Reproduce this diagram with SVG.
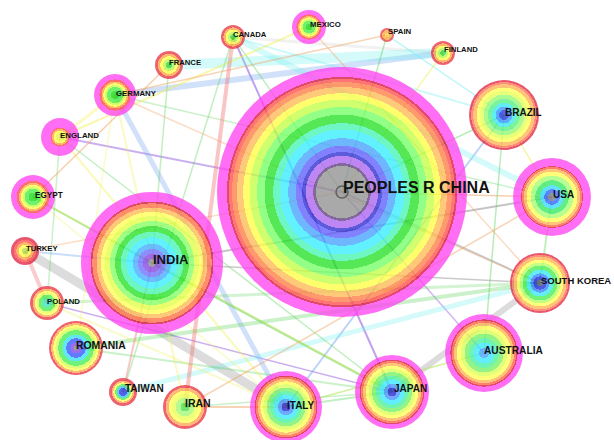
<svg xmlns="http://www.w3.org/2000/svg" width="614" height="440" viewBox="0 0 614 440">
<style>
.lb{font-family:"Liberation Sans",Arial,sans-serif;font-weight:bold;fill:#111}
.n{opacity:0.76}
.e{fill:none;stroke-linecap:butt}
.gy{stroke:#8a8a8a}.pu{stroke:#9a60e0}.bl{stroke:#7aaaf0}.cy{stroke:#70eef0}.gr{stroke:#50d050}.ye{stroke:#f0f050}.or{stroke:#f0a060}.rd{stroke:#f07070}
</style>
<defs>
<radialGradient id="gChina">
<stop offset="0" stop-color="#8e8e8e"/><stop offset=".21" stop-color="#8e8e8e"/>
<stop offset=".21" stop-color="#5a3a7a"/><stop offset=".23" stop-color="#5a3a7a"/>
<stop offset=".23" stop-color="#a860f0"/><stop offset=".29" stop-color="#a860f0"/>
<stop offset=".29" stop-color="#2828d0"/><stop offset=".32" stop-color="#2828d0"/>
<stop offset=".32" stop-color="#5a5aff"/><stop offset=".37" stop-color="#5a5aff"/>
<stop offset=".37" stop-color="#40a0ff"/><stop offset=".43" stop-color="#40a0ff"/>
<stop offset=".43" stop-color="#30ecff"/><stop offset=".50" stop-color="#30ecff"/>
<stop offset=".50" stop-color="#40f4b0"/><stop offset=".55" stop-color="#40f4b0"/>
<stop offset=".55" stop-color="#20e020"/><stop offset=".62" stop-color="#20e020"/>
<stop offset=".62" stop-color="#70ff60"/><stop offset=".68" stop-color="#70ff60"/>
<stop offset=".68" stop-color="#c0ff40"/><stop offset=".74" stop-color="#c0ff40"/>
<stop offset=".74" stop-color="#ffff40"/><stop offset=".79" stop-color="#ffff40"/>
<stop offset=".79" stop-color="#ffb850"/><stop offset=".84" stop-color="#ffb850"/>
<stop offset=".84" stop-color="#ff7a40"/><stop offset=".88" stop-color="#ff7a40"/>
<stop offset=".88" stop-color="#ff4848"/><stop offset=".905" stop-color="#ff4848"/>
<stop offset=".905" stop-color="#d8103a"/><stop offset=".92" stop-color="#d8103a"/>
<stop offset=".92" stop-color="#ff40f0"/><stop offset="1" stop-color="#ff40f0"/>
</radialGradient>
<radialGradient id="gIndia">
<stop offset="0" stop-color="#8e8e8e"/><stop offset=".05" stop-color="#8e8e8e"/>
<stop offset=".05" stop-color="#8040e0"/><stop offset=".13" stop-color="#8040e0"/>
<stop offset=".13" stop-color="#6a6aff"/><stop offset=".20" stop-color="#6a6aff"/>
<stop offset=".20" stop-color="#40a8ff"/><stop offset=".27" stop-color="#40a8ff"/>
<stop offset=".27" stop-color="#30ecff"/><stop offset=".36" stop-color="#30ecff"/>
<stop offset=".36" stop-color="#40f4b0"/><stop offset=".44" stop-color="#40f4b0"/>
<stop offset=".44" stop-color="#20e020"/><stop offset=".52" stop-color="#20e020"/>
<stop offset=".52" stop-color="#80ff60"/><stop offset=".59" stop-color="#80ff60"/>
<stop offset=".59" stop-color="#e0ff40"/><stop offset=".66" stop-color="#e0ff40"/>
<stop offset=".66" stop-color="#ffff50"/><stop offset=".72" stop-color="#ffff50"/>
<stop offset=".72" stop-color="#ffb850"/><stop offset=".78" stop-color="#ffb850"/>
<stop offset=".78" stop-color="#ff6a40"/><stop offset=".84" stop-color="#ff6a40"/>
<stop offset=".84" stop-color="#d8103a"/><stop offset=".865" stop-color="#d8103a"/>
<stop offset=".865" stop-color="#ff40f0"/><stop offset="1" stop-color="#ff40f0"/>
</radialGradient>
<radialGradient id="gUSA">
<stop offset="0" stop-color="#707888"/><stop offset=".1" stop-color="#707888"/>
<stop offset=".1" stop-color="#3060ff"/><stop offset=".2" stop-color="#3060ff"/>
<stop offset=".2" stop-color="#30d8ff"/><stop offset=".3" stop-color="#30d8ff"/>
<stop offset=".3" stop-color="#30e860"/><stop offset=".43" stop-color="#30e860"/>
<stop offset=".43" stop-color="#a0ff70"/><stop offset=".55" stop-color="#a0ff70"/>
<stop offset=".55" stop-color="#ffff50"/><stop offset=".65" stop-color="#ffff50"/>
<stop offset=".65" stop-color="#ffb050"/><stop offset=".72" stop-color="#ffb050"/>
<stop offset=".72" stop-color="#ff5a40"/><stop offset=".77" stop-color="#ff5a40"/>
<stop offset=".77" stop-color="#d8103a"/><stop offset=".79" stop-color="#d8103a"/>
<stop offset=".79" stop-color="#ff40f0"/><stop offset="1" stop-color="#ff40f0"/>
</radialGradient>
<radialGradient id="gJapan">
<stop offset="0" stop-color="#2020d0"/><stop offset=".12" stop-color="#2020d0"/>
<stop offset=".12" stop-color="#4090ff"/><stop offset=".22" stop-color="#4090ff"/>
<stop offset=".22" stop-color="#30e8ff"/><stop offset=".34" stop-color="#30e8ff"/>
<stop offset=".34" stop-color="#40f0a0"/><stop offset=".44" stop-color="#40f0a0"/>
<stop offset=".44" stop-color="#70f060"/><stop offset=".54" stop-color="#70f060"/>
<stop offset=".54" stop-color="#d8ff50"/><stop offset=".63" stop-color="#d8ff50"/>
<stop offset=".63" stop-color="#ffff50"/><stop offset=".71" stop-color="#ffff50"/>
<stop offset=".71" stop-color="#ffb050"/><stop offset=".78" stop-color="#ffb050"/>
<stop offset=".78" stop-color="#ff5a40"/><stop offset=".84" stop-color="#ff5a40"/>
<stop offset=".84" stop-color="#d8103a"/><stop offset=".87" stop-color="#d8103a"/>
<stop offset=".87" stop-color="#ff40f0"/><stop offset="1" stop-color="#ff40f0"/>
</radialGradient>
<radialGradient id="gAus">
<stop offset="0" stop-color="#40a0ff"/><stop offset=".13" stop-color="#40a0ff"/>
<stop offset=".13" stop-color="#30e8ff"/><stop offset=".26" stop-color="#30e8ff"/>
<stop offset=".26" stop-color="#40f0a0"/><stop offset=".38" stop-color="#40f0a0"/>
<stop offset=".38" stop-color="#70f060"/><stop offset=".50" stop-color="#70f060"/>
<stop offset=".50" stop-color="#d8ff50"/><stop offset=".60" stop-color="#d8ff50"/>
<stop offset=".60" stop-color="#ffff50"/><stop offset=".70" stop-color="#ffff50"/>
<stop offset=".70" stop-color="#ffb050"/><stop offset=".77" stop-color="#ffb050"/>
<stop offset=".77" stop-color="#ff5a40"/><stop offset=".83" stop-color="#ff5a40"/>
<stop offset=".83" stop-color="#d8103a"/><stop offset=".86" stop-color="#d8103a"/>
<stop offset=".86" stop-color="#ff40f0"/><stop offset="1" stop-color="#ff40f0"/>
</radialGradient>
<radialGradient id="gGreenM">
<stop offset="0" stop-color="#10d810"/><stop offset=".2" stop-color="#10d810"/>
<stop offset=".2" stop-color="#40ee40"/><stop offset=".38" stop-color="#40ee40"/>
<stop offset=".38" stop-color="#c8ff40"/><stop offset=".48" stop-color="#c8ff40"/>
<stop offset=".48" stop-color="#ffff40"/><stop offset=".56" stop-color="#ffff40"/>
<stop offset=".56" stop-color="#ffa040"/><stop offset=".64" stop-color="#ffa040"/>
<stop offset=".64" stop-color="#ff4040"/><stop offset=".74" stop-color="#ff4040"/>
<stop offset=".74" stop-color="#ff40f0"/><stop offset="1" stop-color="#ff40f0"/>
</radialGradient>
<radialGradient id="gEngland">
<stop offset="0" stop-color="#e8f040"/><stop offset=".22" stop-color="#e8f040"/>
<stop offset=".22" stop-color="#ffff40"/><stop offset=".34" stop-color="#ffff40"/>
<stop offset=".34" stop-color="#ffa040"/><stop offset=".42" stop-color="#ffa040"/>
<stop offset=".42" stop-color="#ff4040"/><stop offset=".5" stop-color="#ff4040"/>
<stop offset=".5" stop-color="#ff40f0"/><stop offset="1" stop-color="#ff40f0"/>
</radialGradient>
<radialGradient id="gBrazil">
<stop offset="0" stop-color="#2030e0"/><stop offset=".14" stop-color="#2030e0"/>
<stop offset=".14" stop-color="#3090ff"/><stop offset=".24" stop-color="#3090ff"/>
<stop offset=".24" stop-color="#30e8f0"/><stop offset=".34" stop-color="#30e8f0"/>
<stop offset=".34" stop-color="#50f080"/><stop offset=".46" stop-color="#50f080"/>
<stop offset=".46" stop-color="#90f870"/><stop offset=".58" stop-color="#90f870"/>
<stop offset=".58" stop-color="#e0ff50"/><stop offset=".68" stop-color="#e0ff50"/>
<stop offset=".68" stop-color="#ffff50"/><stop offset=".78" stop-color="#ffff50"/>
<stop offset=".78" stop-color="#ffb050"/><stop offset=".88" stop-color="#ffb050"/>
<stop offset=".88" stop-color="#ff6a50"/><stop offset=".94" stop-color="#ff6a50"/>
<stop offset=".94" stop-color="#e02040"/><stop offset="1" stop-color="#e02040"/>
</radialGradient>
<radialGradient id="gKorea">
<stop offset="0" stop-color="#505870"/><stop offset=".1" stop-color="#505870"/>
<stop offset=".1" stop-color="#1828d8"/><stop offset=".22" stop-color="#1828d8"/>
<stop offset=".22" stop-color="#3080ff"/><stop offset=".32" stop-color="#3080ff"/>
<stop offset=".32" stop-color="#30e8f0"/><stop offset=".45" stop-color="#30e8f0"/>
<stop offset=".45" stop-color="#40ee50"/><stop offset=".58" stop-color="#40ee50"/>
<stop offset=".58" stop-color="#b0ff60"/><stop offset=".68" stop-color="#b0ff60"/>
<stop offset=".68" stop-color="#ffff50"/><stop offset=".78" stop-color="#ffff50"/>
<stop offset=".78" stop-color="#ffb050"/><stop offset=".88" stop-color="#ffb050"/>
<stop offset=".88" stop-color="#ff6a50"/><stop offset=".94" stop-color="#ff6a50"/>
<stop offset=".94" stop-color="#e02040"/><stop offset="1" stop-color="#e02040"/>
</radialGradient>
<radialGradient id="gRomania">
<stop offset="0" stop-color="#808080"/><stop offset=".08" stop-color="#808080"/>
<stop offset=".08" stop-color="#8040e0"/><stop offset=".2" stop-color="#8040e0"/>
<stop offset=".2" stop-color="#3050ff"/><stop offset=".36" stop-color="#3050ff"/>
<stop offset=".36" stop-color="#30e0f0"/><stop offset=".5" stop-color="#30e0f0"/>
<stop offset=".5" stop-color="#40ee50"/><stop offset=".66" stop-color="#40ee50"/>
<stop offset=".66" stop-color="#d0ff50"/><stop offset=".76" stop-color="#d0ff50"/>
<stop offset=".76" stop-color="#ffff50"/><stop offset=".84" stop-color="#ffff50"/>
<stop offset=".84" stop-color="#ffa050"/><stop offset=".92" stop-color="#ffa050"/>
<stop offset=".92" stop-color="#e83040"/><stop offset="1" stop-color="#e83040"/>
</radialGradient>
<radialGradient id="gIran">
<stop offset="0" stop-color="#40e040"/><stop offset=".2" stop-color="#40e040"/>
<stop offset=".2" stop-color="#a0f870"/><stop offset=".42" stop-color="#a0f870"/>
<stop offset=".42" stop-color="#e8ff50"/><stop offset=".6" stop-color="#e8ff50"/>
<stop offset=".6" stop-color="#ffff50"/><stop offset=".74" stop-color="#ffff50"/>
<stop offset=".74" stop-color="#ffa050"/><stop offset=".88" stop-color="#ffa050"/>
<stop offset=".88" stop-color="#e83040"/><stop offset="1" stop-color="#e83040"/>
</radialGradient>
<radialGradient id="gTaiwan">
<stop offset="0" stop-color="#2030e0"/><stop offset=".3" stop-color="#2030e0"/>
<stop offset=".3" stop-color="#30c0f0"/><stop offset=".42" stop-color="#30c0f0"/>
<stop offset=".42" stop-color="#40ee50"/><stop offset=".56" stop-color="#40ee50"/>
<stop offset=".56" stop-color="#ffff50"/><stop offset=".68" stop-color="#ffff50"/>
<stop offset=".68" stop-color="#ffa050"/><stop offset=".8" stop-color="#ffa050"/>
<stop offset=".8" stop-color="#e83040"/><stop offset="1" stop-color="#e83040"/>
</radialGradient>
<radialGradient id="gPoland">
<stop offset="0" stop-color="#30e0d0"/><stop offset=".25" stop-color="#30e0d0"/>
<stop offset=".25" stop-color="#40ee50"/><stop offset=".5" stop-color="#40ee50"/>
<stop offset=".5" stop-color="#e0ff50"/><stop offset=".62" stop-color="#e0ff50"/>
<stop offset=".62" stop-color="#ffff50"/><stop offset=".72" stop-color="#ffff50"/>
<stop offset=".72" stop-color="#ffa050"/><stop offset=".85" stop-color="#ffa050"/>
<stop offset=".85" stop-color="#e83040"/><stop offset="1" stop-color="#e83040"/>
</radialGradient>
<radialGradient id="gTurkey">
<stop offset="0" stop-color="#b0e040"/><stop offset=".25" stop-color="#b0e040"/>
<stop offset=".25" stop-color="#ffff40"/><stop offset=".45" stop-color="#ffff40"/>
<stop offset=".45" stop-color="#ffa040"/><stop offset=".62" stop-color="#ffa040"/>
<stop offset=".62" stop-color="#ff4848"/><stop offset=".8" stop-color="#ff4848"/>
<stop offset=".8" stop-color="#e02040"/><stop offset="1" stop-color="#e02040"/>
</radialGradient>
<radialGradient id="gSmall">
<stop offset="0" stop-color="#30d830"/><stop offset=".22" stop-color="#30d830"/>
<stop offset=".22" stop-color="#b0f850"/><stop offset=".42" stop-color="#b0f850"/>
<stop offset=".42" stop-color="#ffff40"/><stop offset=".62" stop-color="#ffff40"/>
<stop offset=".62" stop-color="#ffa040"/><stop offset=".8" stop-color="#ffa040"/>
<stop offset=".8" stop-color="#e83040"/><stop offset="1" stop-color="#e83040"/>
</radialGradient>
<radialGradient id="gSpain">
<stop offset="0" stop-color="#ffd040"/><stop offset=".35" stop-color="#ffd040"/>
<stop offset=".35" stop-color="#ffa040"/><stop offset=".7" stop-color="#ffa040"/>
<stop offset=".7" stop-color="#e84040"/><stop offset="1" stop-color="#e84040"/>
</radialGradient>
</defs>
<rect width="614" height="440" fill="#fff"/>
<g id="connectors">
<line class="e gy" x1="25" y1="251" x2="286" y2="407" stroke-width="9" opacity="0.3"/>
<line class="e gy" x1="392" y1="392" x2="540" y2="283" stroke-width="6" opacity="0.3"/>
<line class="e gy" x1="552" y1="197" x2="152" y2="263" stroke-width="2" opacity="0.5"/>
<line class="e gy" x1="540" y1="283" x2="152" y2="263" stroke-width="1.5" opacity="0.45"/>
<line class="e gy" x1="342" y1="192" x2="540" y2="283" stroke-width="2" opacity="0.45"/>
<line class="e gy" x1="233" y1="37" x2="443" y2="53" stroke-width="3" opacity="0.12"/>
<line class="e pu" x1="233" y1="37" x2="392" y2="392" stroke-width="2" opacity="0.6"/>
<line class="e pu" x1="60" y1="137" x2="342" y2="192" stroke-width="2" opacity="0.5"/>
<line class="e pu" x1="47" y1="303" x2="392" y2="392" stroke-width="1.5" opacity="0.5"/>
<line class="e pu" x1="342" y1="192" x2="484" y2="353" stroke-width="1.5" opacity="0.45"/>
<line class="e bl" x1="115" y1="95" x2="443" y2="53" stroke-width="6" opacity="0.35"/>
<line class="e bl" x1="115" y1="95" x2="286" y2="407" stroke-width="5" opacity="0.35"/>
<line class="e bl" x1="286" y1="407" x2="504" y2="115" stroke-width="2" opacity="0.5"/>
<line class="e bl" x1="25" y1="251" x2="152" y2="263" stroke-width="2" opacity="0.4"/>
<line class="e cy" x1="169" y1="65" x2="443" y2="53" stroke-width="10" opacity="0.3"/>
<line class="e cy" x1="233" y1="37" x2="552" y2="197" stroke-width="6" opacity="0.3"/>
<line class="e cy" x1="540" y1="283" x2="123" y2="392" stroke-width="5" opacity="0.3"/>
<line class="e cy" x1="387" y1="35" x2="504" y2="115" stroke-width="1.5" opacity="0.5"/>
<line class="e cy" x1="233" y1="37" x2="504" y2="115" stroke-width="2" opacity="0.35"/>
<line class="e gr" x1="152" y1="263" x2="392" y2="392" stroke-width="2.5" opacity="0.5"/>
<line class="e gr" x1="33" y1="197" x2="152" y2="263" stroke-width="2" opacity="0.5"/>
<line class="e gr" x1="233" y1="37" x2="123" y2="392" stroke-width="1.5" opacity="0.35"/>
<line class="e gr" x1="60" y1="137" x2="392" y2="392" stroke-width="1.5" opacity="0.35"/>
<line class="e gr" x1="504" y1="115" x2="484" y2="353" stroke-width="1.5" opacity="0.4"/>
<line class="e gr" x1="552" y1="197" x2="540" y2="283" stroke-width="2" opacity="0.35"/>
<line class="e gr" x1="387" y1="35" x2="342" y2="192" stroke-width="1.5" opacity="0.4"/>
<line class="e gr" x1="115" y1="95" x2="552" y2="197" stroke-width="1.5" opacity="0.3"/>
<line class="e gr" x1="169" y1="65" x2="152" y2="263" stroke-width="1.5" opacity="0.35"/>
<line class="e gr" x1="540" y1="283" x2="76" y2="348" stroke-width="4" opacity="0.3"/>
<line class="e gr" x1="47" y1="303" x2="540" y2="283" stroke-width="3" opacity="0.25"/>
<line class="e gr" x1="76" y1="348" x2="392" y2="392" stroke-width="2" opacity="0.3"/>
<line class="e gr" x1="286" y1="407" x2="392" y2="392" stroke-width="2" opacity="0.35"/>
<line class="e gr" x1="504" y1="115" x2="342" y2="192" stroke-width="1.5" opacity="0.4"/>
<line class="e gr" x1="233" y1="37" x2="342" y2="192" stroke-width="1.5" opacity="0.35"/>
<line class="e gr" x1="185" y1="407" x2="392" y2="392" stroke-width="1.5" opacity="0.3"/>
<line class="e gr" x1="60" y1="137" x2="47" y2="303" stroke-width="1.5" opacity="0.3"/>
<line class="e gr" x1="286" y1="407" x2="484" y2="353" stroke-width="1.5" opacity="0.3"/>
<line class="e ye" x1="309" y1="27" x2="60" y2="137" stroke-width="2" opacity="0.45"/>
<line class="e ye" x1="60" y1="137" x2="286" y2="407" stroke-width="2" opacity="0.4"/>
<line class="e ye" x1="115" y1="95" x2="185" y2="407" stroke-width="2" opacity="0.35"/>
<line class="e ye" x1="443" y1="53" x2="342" y2="192" stroke-width="1.5" opacity="0.45"/>
<line class="e ye" x1="504" y1="115" x2="552" y2="197" stroke-width="1.5" opacity="0.5"/>
<line class="e ye" x1="33" y1="197" x2="392" y2="392" stroke-width="2" opacity="0.3"/>
<line class="e ye" x1="47" y1="303" x2="286" y2="407" stroke-width="2" opacity="0.3"/>
<line class="e ye" x1="484" y1="353" x2="286" y2="407" stroke-width="1.5" opacity="0.35"/>
<line class="e ye" x1="115" y1="95" x2="60" y2="137" stroke-width="3" opacity="0.35"/>
<line class="e ye" x1="33" y1="197" x2="286" y2="407" stroke-width="1.5" opacity="0.3"/>
<line class="e ye" x1="115" y1="95" x2="76" y2="348" stroke-width="1.5" opacity="0.3"/>
<line class="e or" x1="169" y1="65" x2="33" y2="197" stroke-width="1.5" opacity="0.5"/>
<line class="e or" x1="387" y1="35" x2="115" y2="95" stroke-width="1.5" opacity="0.45"/>
<line class="e or" x1="309" y1="27" x2="540" y2="283" stroke-width="1.5" opacity="0.4"/>
<line class="e or" x1="185" y1="407" x2="552" y2="197" stroke-width="1.5" opacity="0.45"/>
<line class="e or" x1="185" y1="407" x2="286" y2="407" stroke-width="2" opacity="0.45"/>
<line class="e or" x1="115" y1="95" x2="540" y2="283" stroke-width="1.5" opacity="0.35"/>
<line class="e or" x1="552" y1="197" x2="342" y2="192" stroke-width="1.5" opacity="0.5"/>
<line class="e or" x1="25" y1="251" x2="342" y2="192" stroke-width="1.5" opacity="0.35"/>
<line class="e rd" x1="233" y1="37" x2="185" y2="407" stroke-width="4" opacity="0.4"/>
<line class="e rd" x1="25" y1="251" x2="47" y2="303" stroke-width="4" opacity="0.35"/>
<line class="e rd" x1="152" y1="263" x2="123" y2="392" stroke-width="2" opacity="0.4"/>
</g>
<g id="n-china"><circle class="n" cx="342" cy="192" r="125" fill="url(#gChina)"/><circle cx="342" cy="192" r="6" fill="none" stroke="#606060" stroke-width="1.5"/><text class="lb" x="343" y="193" font-size="16">PEOPLES R CHINA</text></g>
<g id="n-india"><circle class="n" cx="152" cy="263" r="71" fill="url(#gIndia)"/><text class="lb" x="153" y="264" font-size="13">INDIA</text></g>
<g id="n-brazil"><circle class="n" cx="504" cy="115" r="35" fill="url(#gBrazil)"/><text class="lb" x="505" y="116" font-size="10">BRAZIL</text></g>
<g id="n-usa"><circle class="n" cx="552" cy="197" r="39" fill="url(#gUSA)"/><text class="lb" x="553" y="198" font-size="10">USA</text></g>
<g id="n-southkorea"><circle class="n" cx="540" cy="283" r="30" fill="url(#gKorea)"/><text class="lb" x="541" y="284" font-size="9.5">SOUTH KOREA</text></g>
<g id="n-australia"><circle class="n" cx="484" cy="353" r="39" fill="url(#gAus)"/><text class="lb" x="484" y="354" font-size="10.2">AUSTRALIA</text></g>
<g id="n-japan"><circle class="n" cx="392" cy="392" r="37" fill="url(#gJapan)"/><text class="lb" x="394" y="392" font-size="10">JAPAN</text></g>
<g id="n-italy"><circle class="n" cx="286" cy="407" r="36" fill="url(#gJapan)"/><text class="lb" x="287" y="409" font-size="10">ITALY</text></g>
<g id="n-iran"><circle class="n" cx="185" cy="407" r="22" fill="url(#gIran)"/><text class="lb" x="185" y="407" font-size="10.5">IRAN</text></g>
<g id="n-taiwan"><circle class="n" cx="123" cy="392" r="14" fill="url(#gTaiwan)"/><text class="lb" x="125" y="392" font-size="10">TAIWAN</text></g>
<g id="n-romania"><circle class="n" cx="76" cy="348" r="27" fill="url(#gRomania)"/><text class="lb" x="76" y="349" font-size="10.4">ROMANIA</text></g>
<g id="n-poland"><circle class="n" cx="47" cy="303" r="17" fill="url(#gPoland)"/><text class="lb" x="47" y="304" font-size="7.8">POLAND</text></g>
<g id="n-turkey"><circle class="n" cx="25" cy="251" r="14" fill="url(#gTurkey)"/><text class="lb" x="26" y="251" font-size="7.7">TURKEY</text></g>
<g id="n-egypt"><circle class="n" cx="33" cy="197" r="22" fill="url(#gGreenM)"/><text class="lb" x="35" y="198" font-size="8.2">EGYPT</text></g>
<g id="n-england"><circle class="n" cx="60" cy="137" r="19" fill="url(#gEngland)"/><text class="lb" x="60" y="138" font-size="7.9">ENGLAND</text></g>
<g id="n-germany"><circle class="n" cx="115" cy="95" r="21" fill="url(#gGreenM)"/><text class="lb" x="116" y="96" font-size="7.8">GERMANY</text></g>
<g id="n-france"><circle class="n" cx="169" cy="65" r="14" fill="url(#gSmall)"/><text class="lb" x="169" y="65" font-size="7.7">FRANCE</text></g>
<g id="n-canada"><circle class="n" cx="233" cy="37" r="12" fill="url(#gSmall)"/><text class="lb" x="233" y="37" font-size="7.7">CANADA</text></g>
<g id="n-mexico"><circle class="n" cx="309" cy="27" r="17" fill="url(#gGreenM)"/><text class="lb" x="310" y="27" font-size="7.8">MEXICO</text></g>
<g id="n-spain"><circle class="n" cx="387" cy="35" r="7" fill="url(#gSpain)"/><text class="lb" x="388" y="34" font-size="7.8">SPAIN</text></g>
<g id="n-finland"><circle class="n" cx="443" cy="53" r="12" fill="url(#gSmall)"/><text class="lb" x="444" y="52" font-size="7.7">FINLAND</text></g>
</svg>
